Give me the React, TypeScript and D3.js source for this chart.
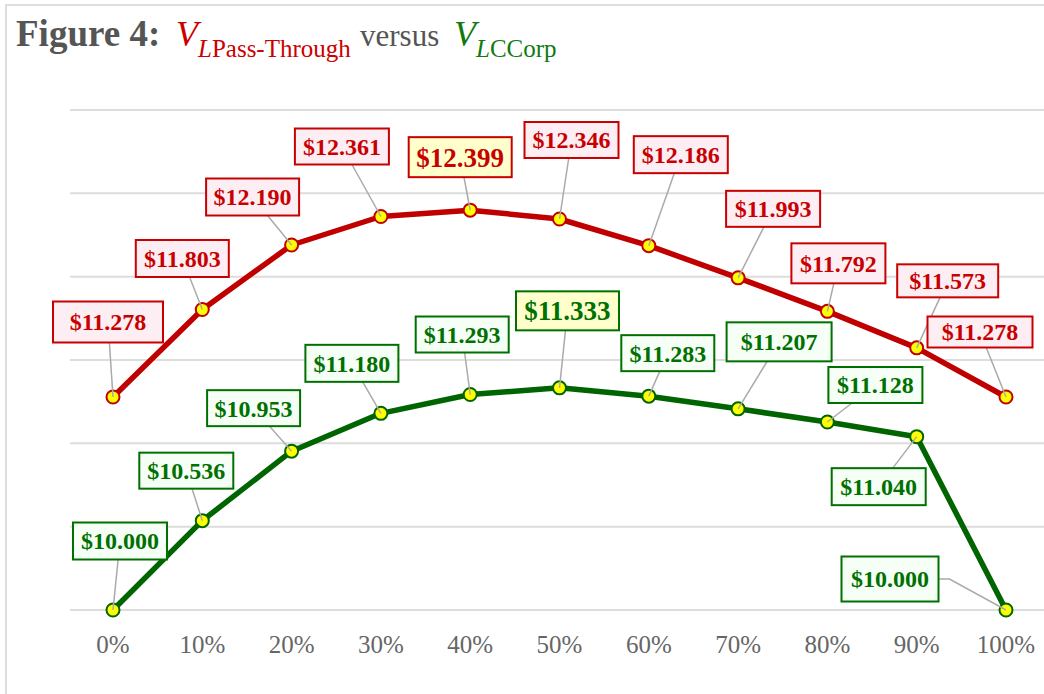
import * as d3 from "d3";

// shares of income passed through (x axis)
const shares = [0, 10, 20, 30, 40, 50, 60, 70, 80, 90, 100];
const shareLabels = ["0%", "10%", "20%", "30%", "40%", "50%", "60%", "70%", "80%", "90%", "100%"];

// values
const passThrough = [11.278, 11.803, 12.19, 12.361, 12.399, 12.346, 12.186, 11.993, 11.792, 11.573, 11.278];
const cCorp = [10.0, 10.536, 10.953, 11.18, 11.293, 11.333, 11.283, 11.207, 11.128, 11.04, 10.0];

const yTicks = [10, 10.5, 11, 11.5, 12, 12.5, 13];

// label box layout: [dx, dy, w, h] relative to the point
const redLabelLayout = [
  [-5, -75, 110, 41],
  [-20, -51, 93, 37],
  [-39, -48, 93, 37],
  [-39, -70, 94, 36],
  [-10, -53, 103, 40],
  [12, -79, 94, 36],
  [32, -91, 94, 37],
  [35, -69, 94, 36],
  [11, -48, 94, 40],
  [31, -67, 101, 33],
  [-26, -65, 105, 31],
];
const greenLabelLayout = [
  [7, -69, 94, 37],
  [-16, -50, 94, 36],
  [-38, -43, 93, 36],
  [-29, -50, 93, 37],
  [-8, -60, 93, 36],
  [8, -77, 103, 39],
  [19, -43, 93, 36],
  [41, -67, 105, 39],
  [48, -37, 94, 36],
  [-38, 50, 94, 37],
  [-116, -31, 97, 45],
];

const FONT = "'Liberation Serif', 'Times New Roman', Times, serif";
const W = 1044;
const H = 694;

const x = d3.scaleLinear().domain([0, 100]).range([113, 1006]);
const y = d3.scaleLinear().domain([10, 13]).range([610, 110]);

type Series = {
  values: number[];
  layout: number[][];
  line: string;
  text: string;
  fill: string;
};

const series: Series[] = [
  { values: passThrough, layout: redLabelLayout, line: "#c00000", text: "#c80000", fill: "#fdeef4" },
  { values: cCorp, layout: greenLabelLayout, line: "#006400", text: "#007000", fill: "#f6fff6" },
];

function SeriesLine({ s }: { s: Series }) {
  const line = d3
    .line<number>()
    .x((_, i) => x(shares[i]))
    .y((d) => y(d));
  return <path d={line(s.values) ?? ""} fill="none" stroke={s.line} strokeWidth={5.5} strokeLinejoin="round" />;
}

function SeriesPoints({ s }: { s: Series }) {
  return (
    <g>
      {s.values.map((v, i) => (
        <circle key={i} cx={x(shares[i])} cy={y(v)} r={6.5} fill="#ffff00" stroke={s.line} strokeWidth={2} />
      ))}
    </g>
  );
}

function SeriesLabels({ s }: { s: Series }) {
  const maxI = d3.maxIndex(s.values);
  return (
    <g>
      {s.values.map((v, i) => {
        const px = x(shares[i]);
        const py = y(v);
        const [dx, dy, w, h] = s.layout[i];
        const cx = px + dx;
        const cy = py + dy;
        const elbow = Math.abs(dx) > w / 2 + 10;
        let leader = `M${px},${py}L${cx},${cy}`;
        if (elbow) {
          const ex = dx < 0 ? cx + w / 2 + 11 : cx - w / 2 - 11;
          leader = `M${px},${py}L${ex},${cy}L${cx},${cy}`;
        }
        const isMax = i === maxI;
        return (
          <g key={i}>
            <path d={leader} fill="none" stroke="#aaaaaa" strokeWidth={1.5} />
            <rect
              x={cx - w / 2}
              y={cy - h / 2}
              width={w}
              height={h}
              fill={isMax ? "#ffffcc" : s.fill}
              stroke={s.text}
              strokeWidth={2}
            />
            <text
              x={cx}
              y={cy}
              dy="0.35em"
              textAnchor="middle"
              fontFamily={FONT}
              fontWeight="bold"
              fontSize={isMax ? 27 : 24}
              fill={s.text}
            >
              {"$" + d3.format(".3f")(v)}
            </text>
          </g>
        );
      })}
    </g>
  );
}

export default function App() {
  return (
    <svg
      width={W}
      height={H}
      style={{ position: "absolute", left: 0, top: 0, background: "#fff" }}
    >
      <rect x={6} y={5} width={W + 50} height={H + 50} fill="#fff" stroke="#dddddd" strokeWidth={2} />

      <text x={16} y={46} fontFamily={FONT} fill="#555555">
        <tspan fontWeight="bold" fontSize={37}>Figure 4:</tspan>
        <tspan x={176} fontStyle="italic" fontSize={36} fill="#cc0000">V</tspan>
        <tspan dy={11} fontStyle="italic" fontSize={25} fill="#cc0000">L</tspan>
        <tspan fontSize={25} fill="#cc0000">Pass-Through</tspan>
        <tspan x={360} dy={-11} fontSize={31}>versus</tspan>
        <tspan x={454} fontStyle="italic" fontSize={36} fill="#107a10">V</tspan>
        <tspan dy={11} fontStyle="italic" fontSize={25} fill="#107a10">L</tspan>
        <tspan fontSize={25} fill="#107a10">CCorp</tspan>
      </text>

      <g>
        {yTicks.map((t) => (
          <line key={t} x1={70} x2={W} y1={y(t)} y2={y(t)} stroke="#dddddd" strokeWidth={2} />
        ))}
      </g>

      <g>
        {shares.map((s, i) => (
          <text
            key={s}
            x={x(s)}
            y={653}
            textAnchor="middle"
            fontFamily={FONT}
            fontSize={25}
            fill="#666666"
          >
            {shareLabels[i]}
          </text>
        ))}
      </g>

      {series.map((s, i) => (
        <SeriesLine key={i} s={s} />
      ))}
      {series.map((s, i) => (
        <SeriesPoints key={i} s={s} />
      ))}
      {series.map((s, i) => (
        <SeriesLabels key={i} s={s} />
      ))}
    </svg>
  );
}
